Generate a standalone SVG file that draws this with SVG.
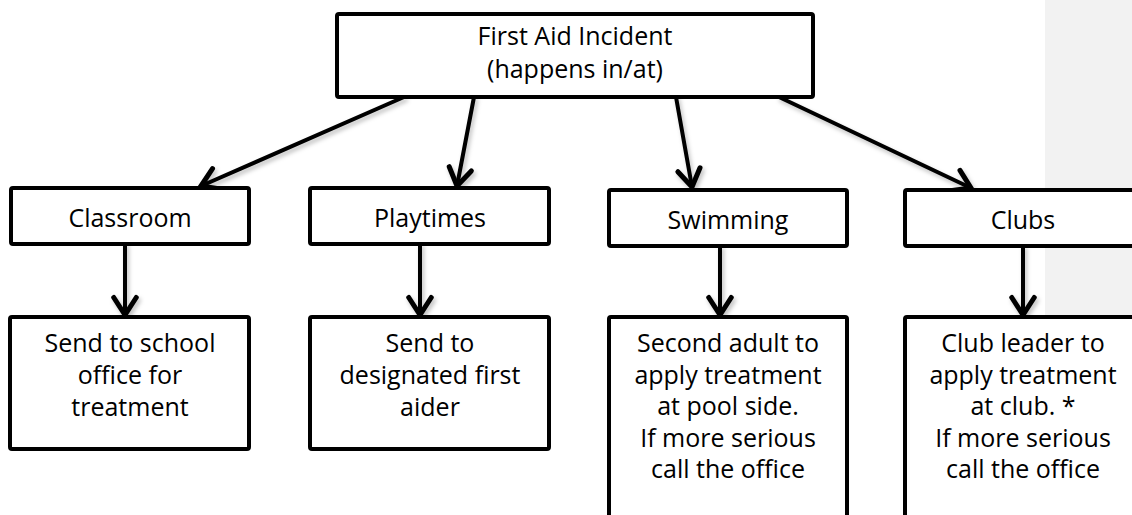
<svg xmlns="http://www.w3.org/2000/svg" width="1132" height="515" viewBox="0 0 1132 515">
<defs>
<style>
.box{fill:#fff;stroke:#000;stroke-width:4}
.t{font-family:"Open Sans","DejaVu Sans",sans-serif;font-size:25px;fill:#000;text-anchor:middle}
.c{fill:none;stroke:#000;stroke-width:4;stroke-linecap:round}
</style>
<marker id="ah" markerUnits="userSpaceOnUse" markerWidth="30" markerHeight="30" viewBox="-18 -12 22 24" refX="0" refY="0" orient="auto">
<path d="M-14,-9 L0,0 L-14,9" fill="none" stroke="#000" stroke-width="4" stroke-linecap="round" stroke-linejoin="miter"/>
</marker>
<filter id="sh" x="-20%" y="-20%" width="140%" height="140%">
<feDropShadow dx="2" dy="3" stdDeviation="2" flood-color="#000" flood-opacity="0.25"/>
</filter>
</defs>
<rect x="1045" y="0" width="87" height="515" fill="#f2f2f2"/>
<g id="connectors" filter="url(#sh)">
<line class="c" x1="404" y1="97" x2="201" y2="186" marker-end="url(#ah)"/>
<line class="c" x1="474" y1="97" x2="457" y2="186" marker-end="url(#ah)"/>
<line class="c" x1="676" y1="97" x2="692" y2="187" marker-end="url(#ah)"/>
<line class="c" x1="779" y1="97" x2="971" y2="188" marker-end="url(#ah)"/>
<line class="c" x1="125" y1="244" x2="125" y2="315" marker-end="url(#ah)"/>
<line class="c" x1="420" y1="244" x2="420" y2="315" marker-end="url(#ah)"/>
<line class="c" x1="720" y1="246" x2="720" y2="315" marker-end="url(#ah)"/>
<line class="c" x1="1023" y1="246" x2="1023" y2="315" marker-end="url(#ah)"/>
</g>
<g id="incident">
<rect class="box" x="337" y="14" width="476" height="83" rx="2"/>
<text class="t" x="575" y="45">First Aid Incident</text>
<text class="t" x="575" y="78">(happens in/at)</text>
</g>
<g id="classroom">
<rect class="box" x="11" y="188" width="238" height="56" rx="2"/>
<text class="t" x="130" y="227">Classroom</text>
</g>
<g id="playtimes">
<rect class="box" x="310" y="188" width="239" height="56" rx="2"/>
<text class="t" x="430" y="227">Playtimes</text>
</g>
<g id="swimming">
<rect class="box" x="609" y="190" width="238" height="56" rx="2"/>
<text class="t" x="728" y="229">Swimming</text>
</g>
<g id="clubs">
<rect class="box" x="905" y="190" width="240" height="56" rx="2"/>
<text class="t" x="1023" y="229">Clubs</text>
</g>
<g id="classroom-action">
<rect class="box" x="10" y="317" width="239" height="132" rx="2"/>
<text class="t" x="130" y="352">Send to school</text>
<text class="t" x="130" y="384">office for</text>
<text class="t" x="130" y="416">treatment</text>
</g>
<g id="playtimes-action">
<rect class="box" x="310" y="317" width="239" height="132" rx="2"/>
<text class="t" x="430" y="352">Send to</text>
<text class="t" x="430" y="384">designated first</text>
<text class="t" x="430" y="416">aider</text>
</g>
<g id="swimming-action">
<rect class="box" x="609" y="317" width="238" height="220" rx="2"/>
<text class="t" x="728" y="352">Second adult to</text>
<text class="t" x="728" y="383.5">apply treatment</text>
<text class="t" x="728" y="415">at pool side.</text>
<text class="t" x="728" y="447">If more serious</text>
<text class="t" x="728" y="478">call the office</text>
</g>
<g id="clubs-action">
<rect class="box" x="905" y="317" width="240" height="220" rx="2"/>
<text class="t" x="1023" y="352">Club leader to</text>
<text class="t" x="1023" y="383.5">apply treatment</text>
<text class="t" x="1023" y="415">at club. *</text>
<text class="t" x="1023" y="447">If more serious</text>
<text class="t" x="1023" y="478">call the office</text>
</g>
</svg>
